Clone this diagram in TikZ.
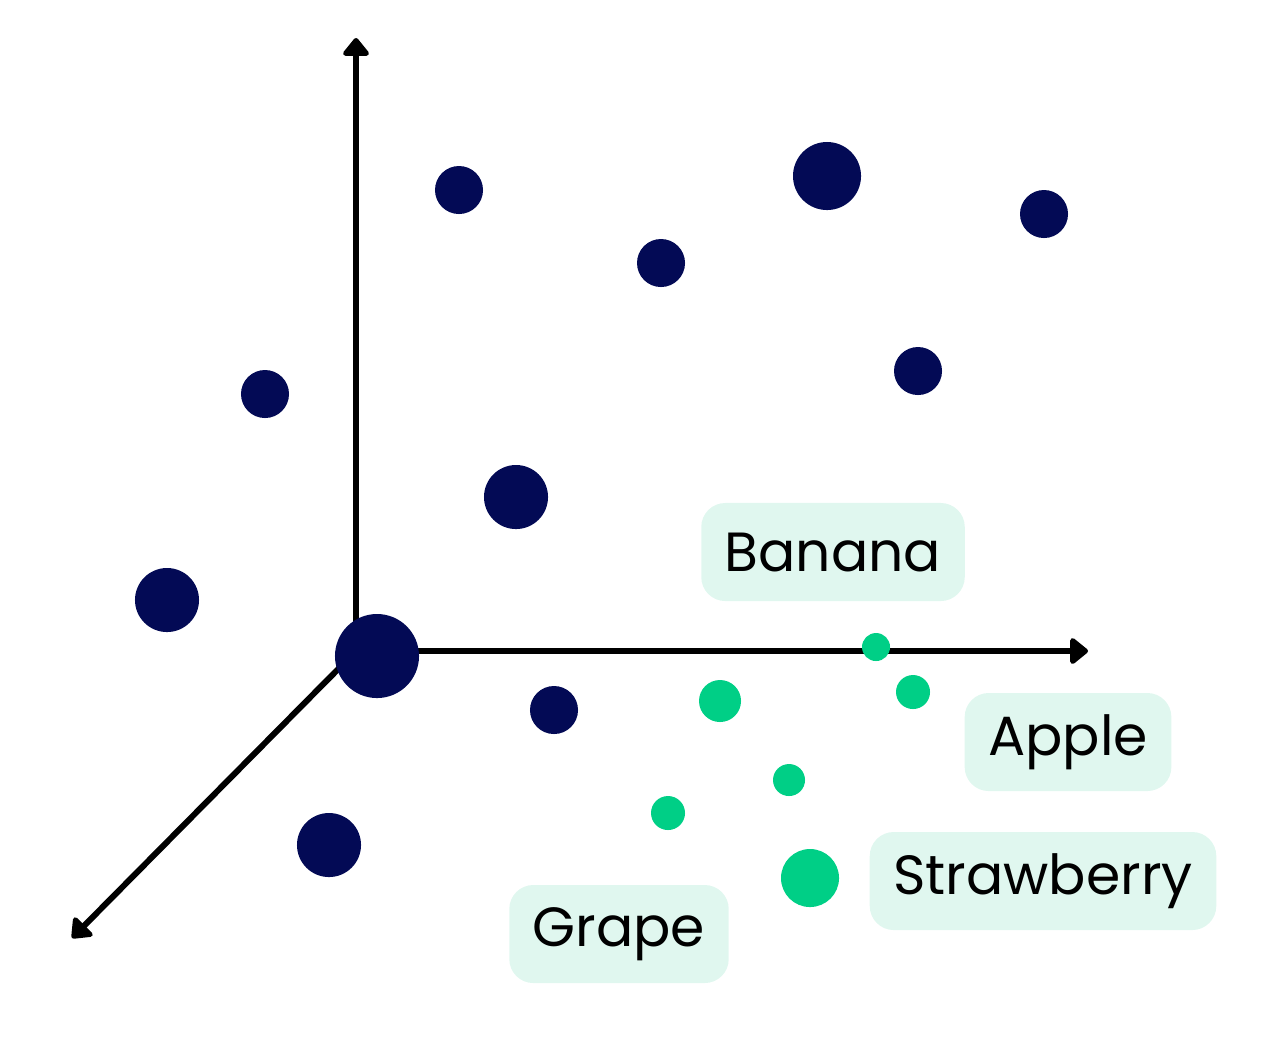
\documentclass[tikz,border=0pt]{standalone}
\usepackage{fontspec}
\setmainfont{Poppins}
\usetikzlibrary{arrows.meta}
\definecolor{navy}{HTML}{030A55}
\definecolor{mint}{HTML}{00CF86}
\definecolor{paleMint}{HTML}{E0F7EF}

\begin{document}
\begin{tikzpicture}[x=0.01cm,y=-0.01cm,
  axis/.style={line width=1.7pt,-{Triangle[round,length=5.5pt,width=8.5pt]}},
  word/.style={fill=paleMint,rounded corners=0.24cm,minimum height=0.98cm,inner xsep=0.235cm,font=\fontsize{15.7}{18}\selectfont},
  dark/.style={circle,fill=navy,inner sep=0pt,minimum size=#1},
  fruit/.style={circle,fill=mint,inner sep=0pt,minimum size=#1}]
  \useasboundingbox (0,0) rectangle (1277,1041);
  % axes
  \coordinate (o) at (356,651);
  \coordinate (up) at (356,38);
  \coordinate (right) at (1088,651);
  \coordinate (down) at (72,938);
  \draw [axis] (o) -- (up);
  \draw [axis] (o) -- (right);
  \draw [axis] (o) -- (down);
  % dark points
  \node [dark=0.84cm] (p0) at (377,656) {};
  \node [dark=0.48cm] (p1) at (459,190) {};
  \node [dark=0.68cm] (p2) at (827,176) {};
  \node [dark=0.48cm] (p3) at (1044,214) {};
  \node [dark=0.48cm] (p4) at (661,263) {};
  \node [dark=0.48cm] (p5) at (918,371) {};
  \node [dark=0.48cm] (p6) at (265,394) {};
  \node [dark=0.64cm] (p7) at (516,497) {};
  \node [dark=0.64cm] (p8) at (167,600) {};
  \node [dark=0.48cm] (p9) at (554,710) {};
  \node [dark=0.64cm] (p10) at (329,845) {};
  % fruit points
  \node [fruit=0.28cm] (f1) at (876,647) {};
  \node [fruit=0.34cm] (f2) at (913,692) {};
  \node [fruit=0.42cm] (f3) at (720,701) {};
  \node [fruit=0.32cm] (f4) at (789,780) {};
  \node [fruit=0.34cm] (f5) at (668,813) {};
  \node [fruit=0.58cm] (f6) at (810,878) {};
  % labels
  \node [word] (banana) at (833,552) {Banana};
  \node [word] (apple) at (1068,742) {Apple};
  \node [word] (strawberry) at (1043,881) {Strawberry};
  \node [word] (grape) at (619,934) {Grape};
\end{tikzpicture}
\end{document}
